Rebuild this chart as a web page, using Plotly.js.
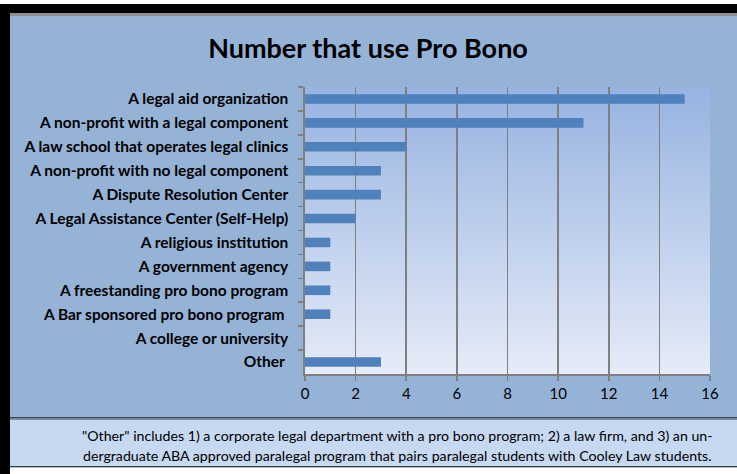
<!DOCTYPE html>
<html>
<head>
<meta charset="utf-8">
<script src="https://cdn.plot.ly/plotly-3.0.1.min.js"></script>
<style>html,body{margin:0;padding:0;background:#95b3d7;overflow:hidden;width:737px;height:474px;}#chart{width:737px;height:474px;}</style>
</head>
<body>
<div id="chart"></div>
<script>
// ---- data ----
const categories = [
  "A legal aid organization",
  "A non-profit with a legal component",
  "A law school that operates legal clinics",
  "A non-profit with no legal component",
  "A Dispute Resolution Center",
  "A Legal Assistance Center (Self-Help)",
  "A religious institution",
  "A government agency",
  "A freestanding pro bono program",
  "A Bar sponsored pro bono program\u00a0",
  "A college or university",
  "Other\u00a0"
];
const counts = [15, 11, 4, 3, 3, 2, 1, 1, 1, 1, 0, 3];
const xTicks = [0, 2, 4, 6, 8, 10, 12, 14, 16];
const chartTitle = "Number that use Pro Bono";
const footLine1 = "\"Other\" includes 1) a corporate legal department with a pro bono program; 2) a law firm, and 3) an un-";
const footLine2 = "dergraduate ABA approved paralegal program that pairs paralegal students with Cooley Law students.";

// ---- layout geometry (pixels) ----
const W = 737, H = 474;
const L = 305, R = 710, T = 87, B = 374;
const fx = p => (p - L) / (R - L);
const fy = p => (B - p) / (B - T);
const rect = (x0, y0, x1, y1, color) => ({
  type: 'rect', xref: 'paper', yref: 'paper', layer: 'below',
  x0: fx(x0), x1: fx(x1), y0: fy(y1), y1: fy(y0),
  fillcolor: color, line: {width: 0}
});

const gradSvg = "<svg xmlns='http://www.w3.org/2000/svg' width='100' height='100' preserveAspectRatio='none'>" +
  "<defs><linearGradient id='g' x1='0' y1='0' x2='0' y2='1'>" +
  "<stop offset='0' stop-color='#97b3e1'/><stop offset='1' stop-color='#e5ebf7'/></linearGradient></defs>" +
  "<rect width='100' height='100' fill='url(#g)'/></svg>";

const trace = {
  type: 'bar',
  orientation: 'h',
  y: categories,
  x: counts,
  marker: {color: '#4f81bd', line: {width: 0}},
  hoverinfo: 'x+y'
};

const font = "Lato, 'Open Sans', sans-serif";

const layout = {
  width: W, height: H,
  margin: {l: L, r: W - R, t: T, b: H - B, pad: 0},
  paper_bgcolor: '#95b3d7',
  plot_bgcolor: 'rgba(0,0,0,0)',
  showlegend: false,
  bargap: 0.6,
  font: {family: font, color: '#000'},
  title: {
    text: '<b>' + chartTitle + '</b>',
    font: {family: font, size: 27, color: '#000'},
    x: 368 / W, xref: 'container', xanchor: 'center',
    y: 1 - 49 / H, yref: 'container', yanchor: 'middle'
  },
  xaxis: {
    range: [0, 16],
    tickvals: xTicks,
    ticktext: xTicks.map(String),
    showgrid: true, gridcolor: '#7f7f7f', gridwidth: 1.6,
    showline: true, linecolor: '#7f7f7f', linewidth: 1.6,
    ticks: 'outside', ticklen: 5, tickcolor: '#7f7f7f', tickwidth: 1.6,
    tickfont: {family: font, size: 15, color: '#000'},
    zeroline: false, fixedrange: true
  },
  yaxis: {
    type: 'category',
    autorange: 'reversed',
    showgrid: false,
    showline: true, linecolor: '#7f7f7f', linewidth: 1.6,
    ticks: 'outside', ticklen: 5, tickcolor: '#7f7f7f', tickwidth: 1.6,
    tickson: 'boundaries',
    ticklabelstandoff: 12,
    tickfont: {family: font, size: 15.5, color: '#000', weight: 'bold'},
    fixedrange: true
  },
  images: [{
    source: 'data:image/svg+xml;charset=utf-8,' + encodeURIComponent(gradSvg),
    xref: 'paper', yref: 'paper', x: 0, y: 1, sizex: 1, sizey: 1,
    sizing: 'stretch', xanchor: 'left', yanchor: 'top', layer: 'below'
  }],
  shapes: [
    rect(0, 0, W + 2, 4, '#ffffff'),
    rect(0, 4, W + 2, 13, '#000000'),
    rect(10, 13, W + 2, 16, '#8e8e8e'),
    rect(0, 4, 10, H, '#000000'),
    rect(10, 417, W + 2, 418.5, '#3c4450'),
    rect(10, 418.5, W + 2, 420, '#7d8b9b'),
    rect(10, 420, W + 2, 466, '#c6d9f1'),
    rect(10, 466, W + 2, 467.5, '#3c3c3c'),
    rect(10, 467.5, W + 2, H, '#ffffff')
  ],
  annotations: [
    {text: footLine1, xref: 'paper', yref: 'paper', x: fx(397), y: fy(435),
     xanchor: 'center', yanchor: 'middle', showarrow: false,
     font: {family: font, size: 14.2, color: '#000'}},
    {text: footLine2, xref: 'paper', yref: 'paper', x: fx(397), y: fy(456),
     xanchor: 'center', yanchor: 'middle', showarrow: false,
     font: {family: font, size: 14.2, color: '#000'}}
  ]
};

Plotly.newPlot('chart', [trace], layout, {displayModeBar: false, staticPlot: true});
</script>
</body>
</html>
